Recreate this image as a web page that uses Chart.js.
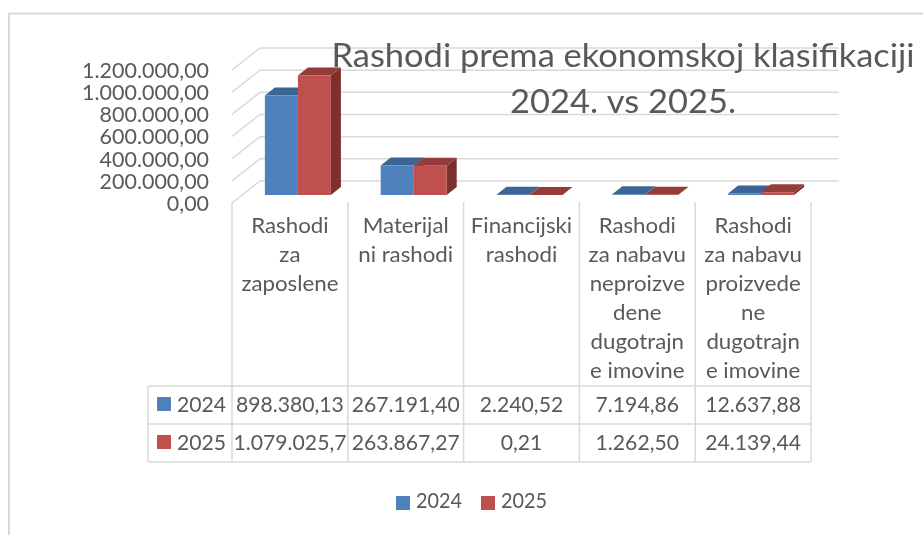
<!DOCTYPE html>
<html><head><meta charset="utf-8">
<script src="https://cdn.jsdelivr.net/npm/chart.js@4.4.1/dist/chart.umd.min.js"></script>
<style>html,body{margin:0;padding:0;background:#fff;}canvas{display:block;}</style>
</head><body>
<canvas id="c" width="923" height="535"></canvas>
<script>
// ---- data ----
const titleLines = ['Rashodi prema ekonomskoj klasifikaciji', '2024. vs 2025.'];
const categories = ['Rashodi za zaposlene', 'Materijalni rashodi', 'Financijski rashodi',
  'Rashodi za nabavu neproizvedene dugotrajne imovine', 'Rashodi za nabavu proizvedene dugotrajne imovine'];
const categoryLines = [
  ['Rashodi', 'za', 'zaposlene'],
  ['Materijal', 'ni rashodi'],
  ['Financijski', 'rashodi'],
  ['Rashodi', 'za nabavu', 'neproizve', 'dene', 'dugotrajn', 'e imovine'],
  ['Rashodi', 'za nabavu', 'proizvede', 'ne', 'dugotrajn', 'e imovine']
];
const seriesNames = ['2024', '2025'];
const values2024 = [898380.13, 267191.40, 2240.52, 7194.86, 12637.88];
const values2025 = [1079025.70, 263867.27, 0.21, 1262.50, 24139.44];
const yTicks = [0, 200000, 400000, 600000, 800000, 1000000, 1200000];

// ---- style ----
const FAM = 'Lato, "Open Sans", sans-serif';
const TXT = '#595959', LINE = '#d9d9d9';
const DEPTH = {dx: 10, dy: -8};
const FRONT = {dx: -8, dy: 8};
const BACK = {dx: 20, dy: -14};

const mc = document.createElement('canvas').getContext('2d');
function tw(txt, size) { mc.font = size + 'px ' + FAM; return mc.measureText(txt).width; }
const tickSize = 20 * 127 / tw('1.200.000,00', 20);

function fmt(v) {
  let [i, d] = v.toFixed(2).split('.');
  i = i.replace(/\B(?=(\d{3})+(?!\d))/g, '.');
  return i + ',' + d;
}

function text(ctx, t, x, y, size, align, sx) {
  ctx.save();
  ctx.font = size + 'px ' + FAM;
  ctx.fillStyle = TXT;
  ctx.textBaseline = 'alphabetic';
  ctx.textAlign = align;
  ctx.translate(x, y);
  ctx.scale(sx, 1);
  ctx.fillText(t, 0, 0);
  ctx.restore();
}
function fitScale(sample, size, target) {
  const s = target / tw(sample, size);
  return Math.max(0.8, Math.min(1.2, s));
}

function poly(ctx, pts) {
  ctx.beginPath();
  ctx.moveTo(pts[0][0], pts[0][1]);
  for (let k = 1; k < pts.length; k++) ctx.lineTo(pts[k][0], pts[k][1]);
  ctx.closePath();
  ctx.fill();
}

const threeD = {
  id: 'threeD',
  beforeDatasetsDraw(chart) {
    const {ctx, chartArea: a, scales: {y}} = chart;
    ctx.save();
    // walls gridlines
    ctx.strokeStyle = LINE; ctx.lineWidth = 1.5;
    yTicks.forEach(v => {
      const py = y.getPixelForValue(v);
      ctx.beginPath();
      ctx.moveTo(a.left + FRONT.dx, py + FRONT.dy);
      ctx.lineTo(a.left + BACK.dx, py + BACK.dy);
      ctx.lineTo(a.right + BACK.dx, py + BACK.dy);
      ctx.stroke();
    });
    // bar side and top faces
    const n = chart.data.labels.length;
    for (let i = 0; i < n; i++) {
      chart.data.datasets.forEach((ds, di) => {
        const bar = chart.getDatasetMeta(di).data[i];
        const {x, y: top, base, width} = bar.getProps(['x', 'y', 'base', 'width'], true);
        const l = x - width / 2, r = x + width / 2;
        ctx.fillStyle = ds.sideColor;
        poly(ctx, [[r, top], [r + DEPTH.dx, top + DEPTH.dy], [r + DEPTH.dx, base + DEPTH.dy], [r, base]]);
        ctx.fillStyle = ds.topColor;
        poly(ctx, [[l, top], [r, top], [r + DEPTH.dx, top + DEPTH.dy], [l + DEPTH.dx, top + DEPTH.dy]]);
      });
    }
    ctx.restore();
  },
  afterDraw(chart) {
    const {ctx, scales: {x: xs, y}} = chart;
    ctx.save();
    // outer border
    ctx.strokeStyle = LINE; ctx.lineWidth = 2;
    ctx.beginPath(); ctx.moveTo(9, 535); ctx.lineTo(9, 13.5); ctx.lineTo(923, 13.5); ctx.stroke();

    // data table
    const step = xs.getPixelForValue(1) - xs.getPixelForValue(0);
    const cols = chart.data.labels.map((c, i) => xs.getPixelForValue(i) + FRONT.dx);
    const b0 = cols[0] - step / 2;
    const bN = cols[cols.length - 1] + step / 2;
    const floorY = y.getPixelForValue(0) + FRONT.dy;
    const rowTop = 386, rowH = 38, legL = 148;
    const rows = chart.data.datasets.length;
    const tblBottom = rowTop + rows * rowH;
    ctx.strokeStyle = LINE; ctx.lineWidth = 1.5;
    for (let i = 0; i <= cols.length; i++) {
      const bx = b0 + i * step;
      ctx.beginPath(); ctx.moveTo(bx, floorY - 1); ctx.lineTo(bx, tblBottom); ctx.stroke();
    }
    for (let r = 0; r <= rows; r++) {
      ctx.beginPath(); ctx.moveTo(legL, rowTop + r * rowH); ctx.lineTo(bN, rowTop + r * rowH); ctx.stroke();
    }
    ctx.beginPath(); ctx.moveTo(legL, rowTop); ctx.lineTo(legL, tblBottom); ctx.stroke();

    const fs = 21.5;
    const hsx = fitScale('zaposlene', fs, 97);
    categoryLines.forEach((lines, i) => {
      lines.forEach((ln, k) => text(ctx, ln, cols[i], floorY + 30 + k * 29, fs, 'center', hsx));
    });
    const vsx = fitScale('898.380,13', fs, 108);
    chart.data.datasets.forEach((ds, di) => {
      const base = rowTop + di * rowH + 26;
      // legend key
      ctx.fillStyle = ds.backgroundColor;
      ctx.fillRect(legL + 9, rowTop + di * rowH + 11, 14, 14);
      text(ctx, ds.label, legL + 29, base, fs, 'left', vsx);
      ds.data.forEach((v, i) => {
        const s = fmt(v);
        ctx.save();
        ctx.font = fs + 'px ' + FAM;
        const wdt = ctx.measureText(s).width * vsx;
        if (wdt > step - 4) {
          const cl = cols[i] - step / 2;
          ctx.beginPath(); ctx.rect(cl + 1, rowTop + di * rowH, step - 2, rowH); ctx.clip();
          text(ctx, s, cl + 1.5, base, fs, 'left', vsx);
        } else {
          text(ctx, s, cols[i], base, fs, 'center', vsx);
        }
        ctx.restore();
      });
    });

    // legend
    const lsx = fitScale('2024', fs, 46);
    const legX = [396, 481];
    chart.data.datasets.forEach((ds, di) => {
      ctx.fillStyle = ds.backgroundColor;
      ctx.fillRect(legX[di], 496, 14, 14);
      text(ctx, ds.label, legX[di] + 20, 508, fs, 'left', lsx);
    });

    // title
    const ts = 33.5;
    const tsx = fitScale(titleLines[0], ts, 583);
    text(ctx, titleLines[0], 623, 67, ts, 'center', tsx);
    text(ctx, titleLines[1], 623, 113, ts, 'center', tsx);
    ctx.restore();
  }
};

new Chart(document.getElementById('c'), {
  type: 'bar',
  data: {
    labels: categories,
    datasets: [
      {label: seriesNames[0], data: values2024, backgroundColor: '#4F81BD', topColor: '#3C6494', sideColor: '#345680', borderWidth: 0},
      {label: seriesNames[1], data: values2025, backgroundColor: '#C0504D', topColor: '#953C3A', sideColor: '#7C2F2D', borderWidth: 0}
    ]
  },
  options: {
    responsive: false,
    animation: false,
    events: [],
    layout: {padding: {left: 0, top: 62, right: 104, bottom: 340}},
    datasets: {bar: {categoryPercentage: 0.57, barPercentage: 1.0}},
    plugins: {legend: {display: false}, title: {display: false}, tooltip: {enabled: false}},
    scales: {
      x: {display: false},
      y: {
        min: 0, max: 1200000,
        afterBuildTicks(s) { s.ticks = yTicks.map(v => ({value: v})); },
        afterFit(s) { s.width = 240; },
        grid: {display: false, drawTicks: false},
        border: {display: false},
        ticks: {autoSkip: false, padding: 31, labelOffset: 9, color: TXT, font: {family: FAM, size: tickSize}, callback: v => fmt(v)}
      }
    }
  },
  plugins: [threeD]
});
</script>
</body></html>
